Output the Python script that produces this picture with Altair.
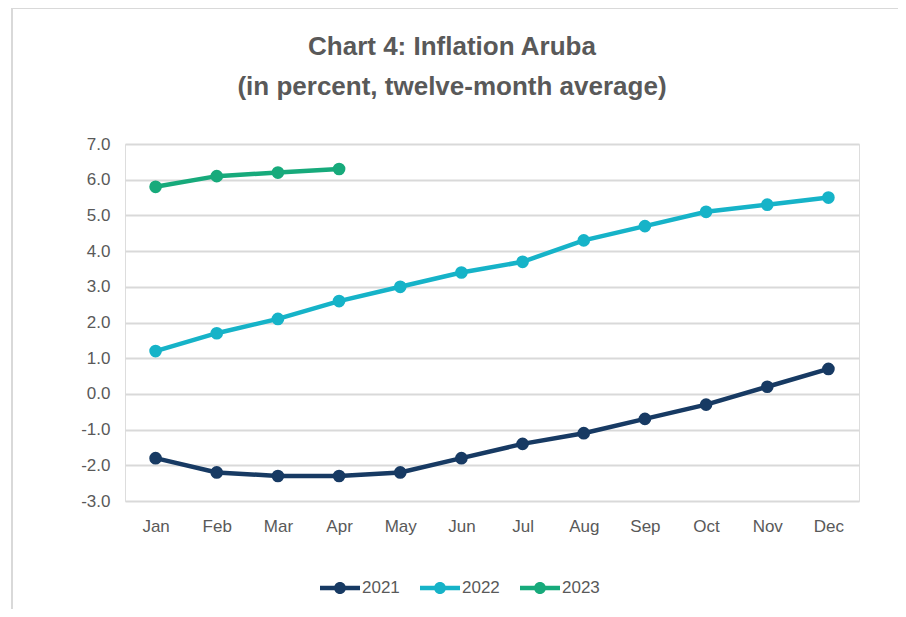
import altair as alt
import pandas as pd

months = ["Jan", "Feb", "Mar", "Apr", "May", "Jun", "Jul", "Aug", "Sep", "Oct", "Nov", "Dec"]
v2021 = [-1.8, -2.2, -2.3, -2.3, -2.2, -1.8, -1.4, -1.1, -0.7, -0.3, 0.2, 0.7]
v2022 = [1.2, 1.7, 2.1, 2.6, 3.0, 3.4, 3.7, 4.3, 4.7, 5.1, 5.3, 5.5]
v2023 = [5.8, 6.1, 6.2, 6.3]
series = ["2021", "2022", "2023"]
colors = ["#173a63", "#16b3c8", "#17aa7b"]

rows = []
for name, vals in zip(series, [v2021, v2022, v2023]):
    for m, v in zip(months, vals):
        rows.append({"Month": m, "Value": v, "Year": name})
df = pd.DataFrame(rows)

FONT = "Liberation Sans"

x = alt.X("Month:N", sort=months, scale=alt.Scale(domain=months, paddingInner=1, paddingOuter=0.5),
          axis=alt.Axis(title=None, labelAngle=0, domain=False, ticks=False, labelPadding=17,
                        labelFontSize=17, labelColor="#595959", labelFont=FONT, grid=False))
y = alt.Y("Value:Q", scale=alt.Scale(domain=[-3, 7], nice=False, zero=False),
          axis=alt.Axis(title=None, values=list(range(-3, 8)), domain=False, ticks=False,
                        labelExpr="(datum.value < 0 ? '-' : '') + format(abs(datum.value), '.1f')",
                        labelPadding=15, labelFontSize=17, labelColor="#595959", labelFont=FONT,
                        gridColor="#d9d9d9", gridWidth=2))

cscale = alt.Scale(domain=series, range=colors)

legend_path = ("M-1,-0.11 L1,-0.11 L1,0.11 L-1,0.11 Z "
               "M-0.3,0 A0.3,0.3 0 1,1 0.3,0 A0.3,0.3 0 1,1 -0.3,0 Z")

lines = alt.Chart(df).mark_line(strokeWidth=4.5).encode(
    x=x, y=y, color=alt.Color("Year:N", scale=cscale, legend=None), detail="Year:N")

points = alt.Chart(df).mark_point(filled=True, size=160, opacity=1).encode(
    x=x, y=y,
    color=alt.Color("Year:N", scale=cscale,
                    legend=alt.Legend(title=None, orient="none", direction="horizontal",
                                      legendX=195, legendY=424, symbolType=legend_path,
                                      symbolSize=1600, symbolStrokeWidth=0, labelFontSize=17,
                                      labelFont=FONT,
                                      labelColor="#595959", labelOffset=2, columnPadding=20,
                                      symbolOpacity=1)))

edge = alt.Chart(pd.DataFrame({"a": [0]}))
left_edge = edge.mark_rule(color="#d9d9d9", strokeWidth=2).encode(
    x=alt.value(-113), y=alt.value(-136), y2=alt.value(470))
right_edge = edge.mark_rule(color="#d9d9d9", strokeWidth=2).encode(
    x=alt.value(775), y=alt.value(-136), y2=alt.value(470))
top_edge = edge.mark_rule(color="#d9d9d9", strokeWidth=2).encode(
    x=alt.value(-113), x2=alt.value(775), y=alt.value(-136))

chart = alt.layer(left_edge, right_edge, top_edge, lines, points).resolve_legend(color="independent").properties(
    width=734, height=357,
    autosize=alt.AutoSizeParams(type="none"),
    padding={"left": 117, "top": 136, "right": 39, "bottom": 108},
    title=alt.TitleParams(["Chart 4: Inflation Aruba", "(in percent, twelve-month average)"],
                          anchor="middle", dx=-40, offset=-93, fontSize=26, lineHeight=40,
                          font=FONT, fontWeight="bold", color="#595959"),
).configure_view(stroke=None).configure(font=FONT)

chart.save("out.html", embed_options={"renderer": "svg", "actions": False})
